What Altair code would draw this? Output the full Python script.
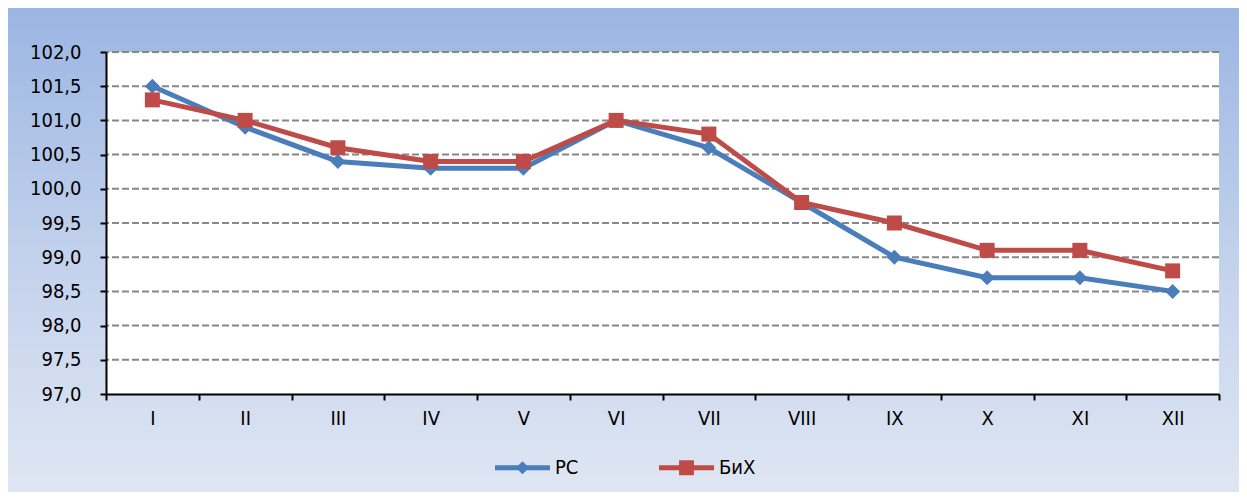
import altair as alt
import pandas as pd

months = ["I", "II", "III", "IV", "V", "VI", "VII", "VIII", "IX", "X", "XI", "XII"]
rs_values = [101.5, 100.9, 100.4, 100.3, 100.3, 101.0, 100.6, 99.8, 99.0, 98.7, 98.7, 98.5]
bih_values = [101.3, 101.0, 100.6, 100.4, 100.4, 101.0, 100.8, 99.8, 99.5, 99.1, 99.1, 98.8]
series_names = ["РС", "БиХ"]
series_colors = ["#4A7EBB", "#BE4B48"]
y_ticks = [97.0, 97.5, 98.0, 98.5, 99.0, 99.5, 100.0, 100.5, 101.0, 101.5, 102.0]

W, H = 1113, 342
PAD_L, PAD_T, PAD_R, PAD_B = 98, 44, 20, 98
FONT = "DejaVu Sans Condensed, DejaVu Sans"

df = pd.DataFrame({
    "month": months * 2,
    "value": rs_values + bih_values,
    "series": [series_names[0]] * len(months) + [series_names[1]] * len(months),
})
grid_df = pd.DataFrame({"value": y_ticks[1:]})
legend_df = pd.DataFrame({"series": series_names})
dummy = pd.DataFrame({"a": [0]})

y_scale = alt.Scale(domain=[97, 102], nice=False, zero=False)
x_enc = alt.X("month:N", sort=months,
              scale=alt.Scale(type="band", paddingInner=0, paddingOuter=0),
              axis=alt.Axis(title=None, tickBand="extent", labelAngle=0, labelPadding=8,
                            grid=False, zindex=1))
y_enc = alt.Y("value:Q", scale=y_scale,
              axis=alt.Axis(title=None, values=y_ticks, grid=False, labelPadding=19, zindex=1,
                            labelOverlap=False,
                            labelExpr="replace(format(datum.value, '.1f'), '.', ',')"))

bg = alt.Chart(dummy).mark_rect(
    fill=alt.Gradient(gradient="linear", x1=0, x2=0, y1=0, y2=1,
                      stops=[alt.GradientStop(color="#9bb6e3", offset=0),
                             alt.GradientStop(color="#c2d1ec", offset=0.5),
                             alt.GradientStop(color="#e0e7f3", offset=1)]),
    stroke=None,
).encode(x=alt.value(-PAD_L), x2=alt.value(W + PAD_R + 20),
         y=alt.value(-PAD_T), y2=alt.value(H + PAD_B + 10))

plot_bg = alt.Chart(dummy).mark_rect(fill="white").encode(
    x=alt.value(0), x2=alt.value(W), y=alt.value(0), y2=alt.value(H))

grid = alt.Chart(grid_df).mark_rule(color="#878787", strokeWidth=2, strokeDash=[7, 3]).encode(
    y=y_enc)

layers = [bg, plot_bg, grid]
for name, color, shape in zip(series_names, series_colors, ["diamond", "square"]):
    base = alt.Chart(df).transform_filter(alt.datum.series == name)
    layers.append(base.mark_line(color=color, strokeWidth=5).encode(x=x_enc, y=y_enc))
    layers.append(base.mark_point(color=color, filled=True, opacity=1, shape=shape,
                                  size=225, strokeWidth=0).encode(x=x_enc, y=y_enc))

diamond_path = "M-1,-0.09L1,-0.09L1,0.09L-1,0.09Z M0,-0.24L0.24,0L0,0.24L-0.24,0Z"
square_path = "M-1,-0.09L1,-0.09L1,0.09L-1,0.09Z M-0.27,-0.27L0.27,-0.27L0.27,0.27L-0.27,0.27Z"

legend_kw = dict(orient="none", legendX=389, legendY=388, direction="horizontal", title=None,
                 symbolSize=3025, labelFont=FONT, labelFontSize=20, labelColor="#000000",
                 labelOffset=5, columnPadding=80, padding=0, symbolStrokeWidth=0)
legend_layer = alt.Chart(legend_df).transform_filter("false").mark_point(
    filled=True, opacity=1, size=3025, strokeWidth=0).encode(
    color=alt.Color("series:N", scale=alt.Scale(domain=series_names, range=series_colors),
                    legend=alt.Legend(**legend_kw)),
    shape=alt.Shape("series:N", scale=alt.Scale(domain=series_names, range=[diamond_path, square_path]),
                    legend=alt.Legend(**legend_kw)),
)
layers.append(legend_layer)

chart = alt.layer(*layers).resolve_scale(y="shared").properties(
    width=W, height=H,
    autosize=alt.AutoSizeParams(type="none"),
    padding={"left": PAD_L, "top": PAD_T, "right": PAD_R, "bottom": PAD_B},
    background="white",
).configure_view(stroke=None).configure_axis(
    domainColor="#000000", domainWidth=2, tickColor="#000000", tickWidth=2, tickSize=6,
    labelFont=FONT, labelFontSize=20, labelColor="#000000",
)

chart.save("out.html", embed_options={"renderer": "svg", "actions": False})
